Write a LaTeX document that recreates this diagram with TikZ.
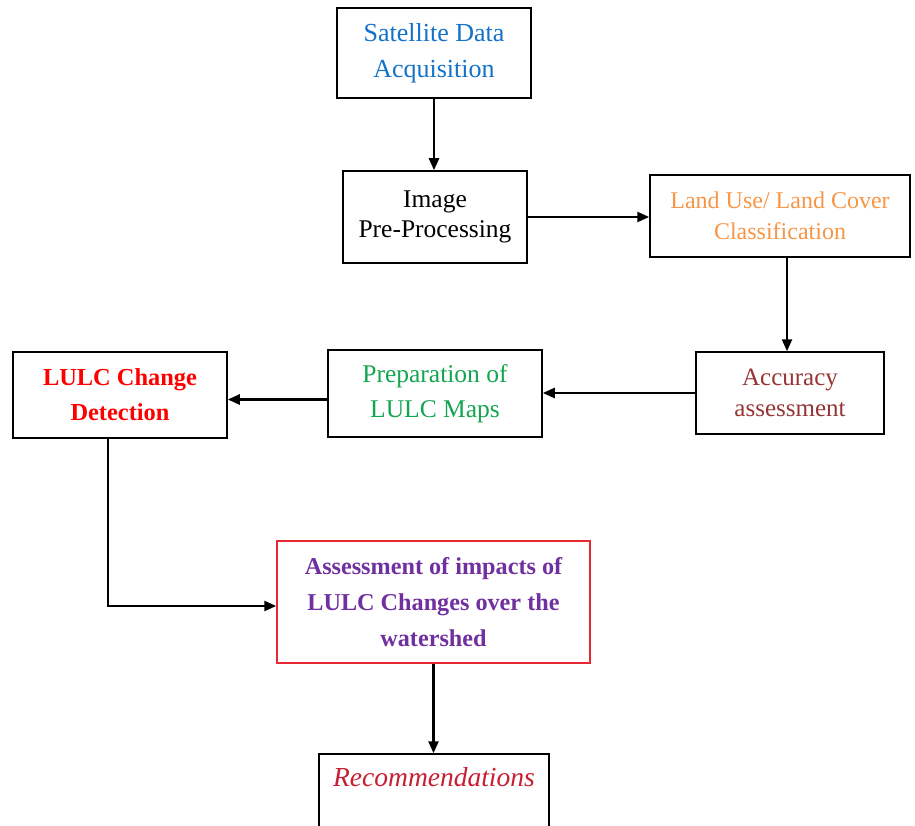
\documentclass[tikz,border=0pt]{standalone}
\usepackage{fontspec}
\setmainfont{Liberation Serif}
\usetikzlibrary{arrows.meta}
\definecolor{cblue}{RGB}{20,115,200}
\definecolor{corange}{RGB}{247,150,70}
\definecolor{cbrown}{RGB}{150,54,52}
\definecolor{cgreen}{RGB}{20,165,80}
\definecolor{cred}{RGB}{255,0,0}
\definecolor{cpurple}{RGB}{112,48,160}
\definecolor{crec}{RGB}{200,30,50}
\definecolor{cborder}{RGB}{230,40,50}
\tikzset{
  box/.style={draw=black, line width=1.5pt, rectangle, align=center, inner sep=0pt},
  arr/.style={draw=black, line width=2.4pt, -{Triangle[length=12pt,width=10pt]}},
}
\begin{document}
\begin{tikzpicture}[x=1pt,y=-1pt]
\useasboundingbox[fill=white] (0,0) rectangle (915,826);
\node[box, minimum width=194pt, minimum height=90pt, text=cblue, font=\fontsize{26}{36}\selectfont] (sat) at (434,53) {Satellite Data\\Acquisition};
\node[box, minimum width=184pt, minimum height=92pt, text=black, font=\fontsize{25.5}{30}\selectfont] (img) at (435,217) {Image\\Pre-Processing};
\node[box, minimum width=260pt, minimum height=82pt, text=corange, font=\fontsize{24}{31}\selectfont] (luc) at (780,216) {Land Use/ Land Cover\\Classification};
\node[box, minimum width=188pt, minimum height=82pt, text=cbrown, font=\fontsize{25}{31}\selectfont] (acc) at (790,393) {Accuracy\\assessment};
\node[box, minimum width=214pt, minimum height=87pt, text=cgreen, font=\fontsize{25.5}{35}\selectfont] (prep) at (435,393.5) {Preparation of\\LULC Maps};
\node[box, minimum width=214pt, minimum height=86pt, text=cred, font=\fontsize{24.4}{35}\selectfont\bfseries] (lulc) at (120,395) {LULC Change\\Detection};
\node[box, draw=cborder, minimum width=313pt, minimum height=122pt, text=cpurple, font=\fontsize{24.2}{36}\selectfont\bfseries] (ass) at (433.5,602) {Assessment of impacts of\\LULC Changes over the\\watershed};
\node[box, minimum width=230pt, minimum height=96pt] (rec) at (434,802) {};
\node[text=crec, font=\fontsize{27.5}{32}\selectfont\itshape, inner sep=0pt] (rectxt) at (434,777) {Recommendations};
\draw[arr] (sat.south) -- (img.north -| sat.south);
\draw[arr] (img.east) -- (img.east -| luc.west);
\draw[arr] ([xshift=7pt]luc.south) -- ([xshift=7pt]luc.south |- acc.north);
\draw[arr] (acc.west) -- (acc.west -| prep.east);
\draw[arr] ([yshift=-6pt]prep.west) -- ([yshift=-6pt]prep.west -| lulc.east);
\draw[arr] ([xshift=-12pt]lulc.south) |- ([yshift=-4pt]ass.west);
\draw[arr] (ass.south) -- (ass.south |- rec.north);
\end{tikzpicture}
\end{document}
